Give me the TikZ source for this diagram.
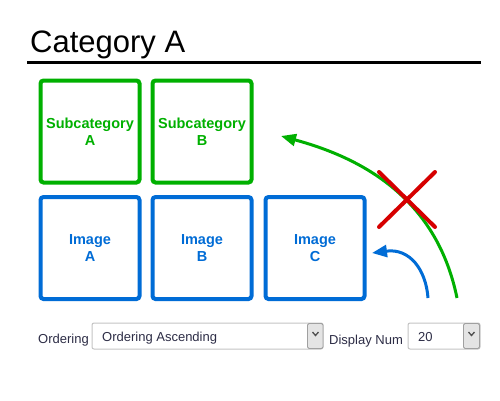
\documentclass[tikz,border=0pt]{standalone}
\usepackage{fontspec}
\setmainfont{Liberation Sans}
\usetikzlibrary{arrows.meta}
\definecolor{cgreen}{RGB}{0,176,0}
\definecolor{cblue}{RGB}{0,108,214}
\definecolor{cred}{RGB}{214,0,0}
\definecolor{ctext}{RGB}{45,45,70}
\definecolor{cborder}{RGB}{196,196,196}
\definecolor{cbtn}{RGB}{228,228,228}
\definecolor{cbtnborder}{RGB}{160,160,160}
\definecolor{cchev}{RGB}{80,80,80}
\begin{document}
\begin{tikzpicture}[x=1pt,y=-1pt,
  tile/.style={draw, line width=4pt, rounded corners=3pt, minimum width=99pt, minimum height=102pt, inner sep=0pt, align=center, font=\fontsize{14.5}{17}\selectfont\bfseries},
  subtile/.style={tile, draw=cgreen, text=cgreen},
  imgtile/.style={tile, draw=cblue, text=cblue},
  ctrllabel/.style={inner sep=0pt, anchor=base west, text=ctext, font=\fontsize{13}{15}\selectfont},
  selectbox/.style={draw=cborder, line width=1pt, rounded corners=2pt, fill=white},
  btn/.style={draw=cbtnborder, line width=0.8pt, rounded corners=1.5pt, fill=cbtn},
  chev/.style={draw=cchev, line width=1.3pt},
  flow/.style={line width=3pt}
]
\useasboundingbox (0,0) rectangle (500,400);
\fill[white] (0,0) rectangle (500,400);

% title
\node[inner sep=0pt, anchor=base west, font=\fontsize{31}{37}\selectfont] (title) at (30,52) {Category A};
\draw[line width=3pt] (27,62.5) coordinate (rl) -- (481,62.5) coordinate (rr);

% tiles
\node[subtile] (sa) at (90,131.5) {Subcategory\\A};
\node[subtile] (sb) at (202,131.5) {Subcategory\\B};
\node[imgtile] (ia) at (90,248) {Image\\A};
\node[imgtile] (ib) at (202,248) {Image\\B};
\node[imgtile] (ic) at (315,248) {Image\\C};

% arrows
\coordinate (gs) at (457,298);
\coordinate (gt) at (281,136);
\coordinate (bs) at (428,298);
\coordinate (bt) at (372,253);
\draw[flow, draw=cgreen, -{Triangle[length=15pt,width=12pt]}] (gs) .. controls (435,190) and (350,155) .. (gt);
\draw[flow, draw=cblue, -{Triangle[length=15pt,width=12pt]}] (bs) .. controls (426,270) and (410,248) .. (bt);

% red cross
\coordinate (x1) at (379,172);
\coordinate (x2) at (435,227);
\coordinate (x3) at (435,172);
\coordinate (x4) at (379,227);
\draw[cred, line width=4pt, line cap=round] (x1) -- (x2);
\draw[cred, line width=4pt, line cap=round] (x3) -- (x4);

% controls
\node[ctrllabel] (ordlbl) at (38,343) {Ordering};
\draw[selectbox] (92,323) rectangle (323,349);
\node[ctrllabel] (ordval) at (102,341.5) {Ordering Ascending};
\draw[btn] (307.5,323.5) rectangle (323,348.5);
\draw[chev] (312.5,332) -- (315.5,335.5) -- (318.5,332);

\node[ctrllabel] (numlbl) at (329,344) {Display Num};
\draw[selectbox] (408,323) rectangle (480,349);
\node[ctrllabel] (numval) at (418,341.5) {20};
\draw[btn] (463.5,323.5) rectangle (479.5,348.5);
\draw[chev] (468.5,332) -- (471.5,335.5) -- (474.5,332);
\end{tikzpicture}
\end{document}
